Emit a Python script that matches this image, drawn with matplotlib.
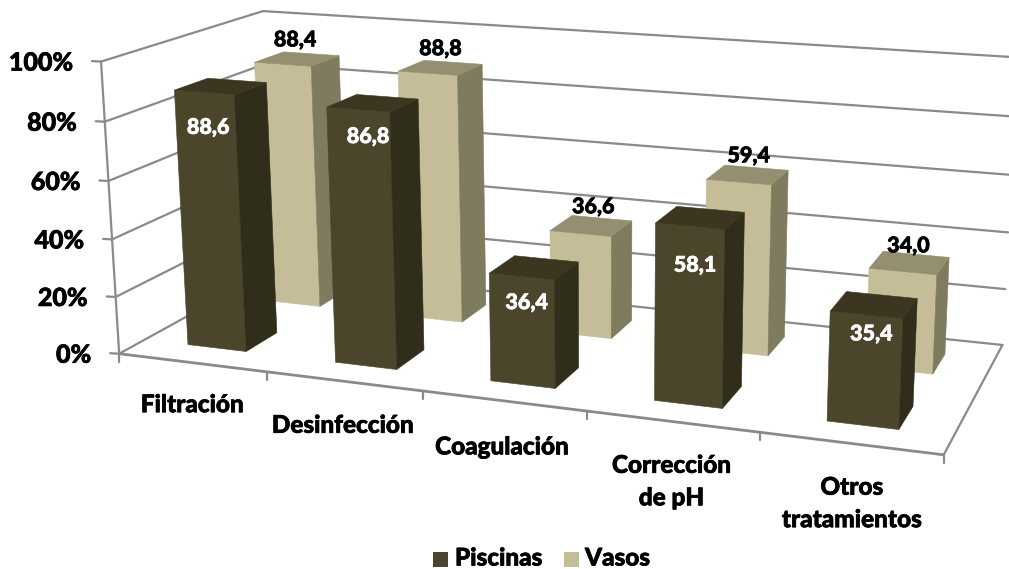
import numpy as np
import matplotlib
matplotlib.use("Agg")
import matplotlib.pyplot as plt
from matplotlib.patches import Polygon, Rectangle
import matplotlib.patheffects as pe

plt.rcParams['font.family'] = ['Lato', 'DejaVu Sans']

# data
categories = ["Filtración", "Desinfección", "Coagulación", "Corrección\nde pH", "Otros\ntratamientos"]
piscinas = [88.6, 86.8, 36.4, 58.1, 35.4]
vasos = [88.4, 88.8, 36.6, 59.4, 34.0]
y_ticks = [0, 20, 40, 60, 80, 100]

# box corners of the 3D chart on the picture, used to fit the camera
box_3d = [(0, 0, 0), (0, 0, 1), (0, 1, 0), (0, 1, 1), (5, 1, 0), (5, 1, 1), (5, 0, 0)]
box_px = [(118, 354), (102, 62), (275, 268), (262, 11), (1002, 346), (1017, 57), (944, 454)]

rows = []
for (a, b, c), (u, v) in zip(box_3d, box_px):
    rows.append([a, b, c, 1, 0, 0, 0, 0, -u * a, -u * b, -u * c, -u])
    rows.append([0, 0, 0, 0, a, b, c, 1, -v * a, -v * b, -v * c, -v])
cam = np.linalg.svd(np.array(rows, dtype=float))[2][-1].reshape(3, 4)


def project(cat, depth, val):
    p = cam @ np.array([cat, depth, val / 100.0, 1.0])
    return p[0] / p[2], p[1] / p[2]


fig = plt.figure(figsize=(10.09, 5.69), dpi=100)
ax = fig.add_axes([0, 0, 1, 1])
ax.set_xlim(0, 1009)
ax.set_ylim(569, 0)
ax.axis('off')

GRID = '#8a8a8a'
WEIGHT = 900


def seg(a, b, lw=1.6):
    ax.plot(*zip(a, b), color=GRID, lw=lw, solid_capstyle='round', zorder=1)


def label(x, y, s, size, color='black', **kw):
    # thin stroke because the Lato bold is lighter than the original font
    ax.text(x, y, s, fontsize=size, fontweight=WEIGHT, color=color, zorder=30, va='center',
            path_effects=[pe.withStroke(linewidth=0.5, foreground=color)], **kw)


# walls and floor
for t in y_ticks:
    seg(project(0, 0, t), project(0, 1, t))
    seg(project(0, 1, t), project(5, 1, t))
    x, y = project(0, 0, t)
    seg((x - 9, y - 0.5), (x, y))
    label(x - 28, y + 1.5, f"{t}%", 18, ha='right')
seg(project(0, 0, 0), project(0, 0, 100))
seg(project(0, 0, 0), project(5, 0, 0), lw=2)
seg(project(5, 0, 0), project(5, 1, 0))
for i in range(6):
    x, y = project(i, 0, 0)
    seg((x, y), (x, y + 8))


def bar(cat, d0, d1, val, front, side, top, z):
    x0, x1 = cat + 0.3, cat + 0.7
    faces = [
        ([(x0, d0, 0), (x1, d0, 0), (x1, d0, val), (x0, d0, val)], front),
        ([(x1, d0, 0), (x1, d1, 0), (x1, d1, val), (x1, d0, val)], side),
        ([(x0, d0, val), (x1, d0, val), (x1, d1, val), (x0, d1, val)], top),
    ]
    for pts, col in faces:
        ax.add_patch(Polygon([project(*p) for p in pts], closed=True, facecolor=col,
                             edgecolor=col, lw=0.4, zorder=z))


# back row first, then the front row
for i, v in enumerate(vasos):
    bar(i, 0.65, 0.85, v, '#c4bd97', '#7f7b5e', '#938f70', 2 + i)
for i, v in enumerate(piscinas):
    bar(i, 0.15, 0.35, v, '#4b452c', '#302d1b', '#3c3620', 10 + i)

# data labels, the original has them a bit off centre
nudge_p = [(4, 35), (10, 27), (5, 26), (5, 39), (5, 19)]
nudge_v = [(-2, -19), (0, -19), (2, -19), (1, -19), (-1, -17)]
for i, v in enumerate(piscinas):
    x, y = project(i + 0.5, 0.15, v)
    label(x + nudge_p[i][0], y + nudge_p[i][1], f"{v:.1f}".replace('.', ','), 15.5, color='white', ha='center')
for i, v in enumerate(vasos):
    x, y = project(i + 0.5, 0.75, v)
    label(x + nudge_v[i][0], y + nudge_v[i][1], f"{v:.1f}".replace('.', ','), 15.5, ha='center')

# category labels
label_nudge = [(0, 42), (-1, 44), (-2, 46), (-1, 60), (1, 60)]
for i, name in enumerate(categories):
    x, y = project(i + 0.5, 0, 0)
    label(x + label_nudge[i][0], y + label_nudge[i][1], name, 17.5, ha='center', linespacing=1.5)

# legend
ax.add_patch(Rectangle((433, 552), 15, 15, facecolor='#4b452c'))
label(455, 558, "Piscinas", 17.5, ha='left')
ax.add_patch(Rectangle((564, 552), 15, 15, facecolor='#c4bd97'))
label(585, 558, "Vasos", 17.5, ha='left')

fig.savefig("out.png", dpi=100)
